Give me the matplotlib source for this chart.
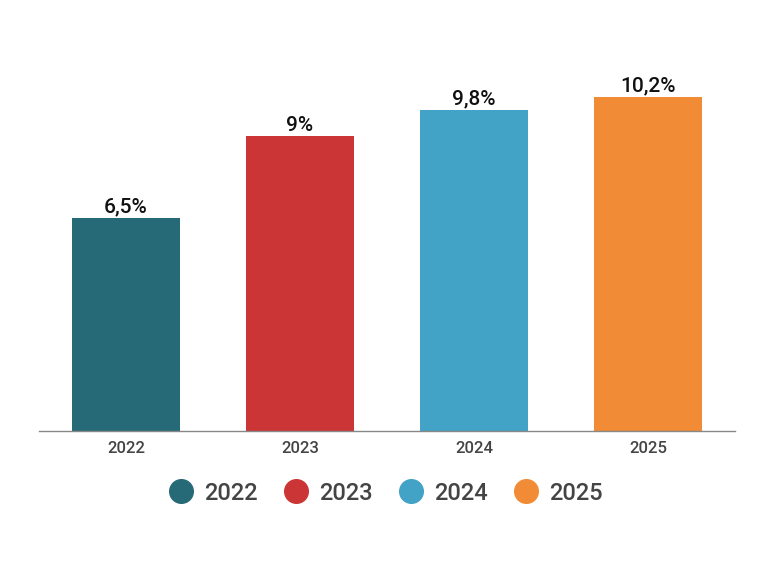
import matplotlib
matplotlib.use("Agg")
import matplotlib.pyplot as plt
from matplotlib.lines import Line2D

categories = ["2022", "2023", "2024", "2025"]
values = [6.5, 9.0, 9.8, 10.2]
labels = ["6,5%", "9%", "9,8%", "10,2%"]
colors = ["#266977", "#cc3535", "#42a3c6", "#f18b35"]

plt.rcParams['font.family'] = ['Roboto', 'DejaVu Sans']

fig = plt.figure(figsize=(7.72, 5.73), dpi=100)
ax = fig.add_axes([39/772, (573-431)/573, 696/772, (431-38)/573])
x = list(range(len(categories)))
bars = ax.bar(x, values, width=0.615, color=colors)
for xi, v, lab in zip(x, values, labels):
    ax.text(xi, v + 0.05, lab, ha='center', va='bottom', fontsize=15,
            fontweight='medium', color='#111111')
ax.set_xlim(-0.5, 3.5)
ax.set_ylim(0, 12)
ax.set_xticks(x)
ax.set_xticklabels(categories, fontsize=12, fontweight='medium', color='#444444')
ax.tick_params(axis='x', length=0, pad=7)
ax.set_yticks([])
for s in ['top', 'right', 'left']:
    ax.spines[s].set_visible(False)
ax.spines['bottom'].set_color('#888888')
ax.spines['bottom'].set_linewidth(1)

handles = [Line2D([0], [0], marker='o', linestyle='', markersize=17,
                  markerfacecolor=c, markeredgecolor=c) for c in colors]
fig.legend(handles, categories, loc='center', bbox_to_anchor=(0.5, 1 - 493/573),
           ncol=4, frameon=False, labelcolor='#444444',
           prop={'size': 17, 'weight': 'medium'},
           handlelength=1.0, handletextpad=0.45, columnspacing=1.15)
fig.savefig("out.png", dpi=100)
